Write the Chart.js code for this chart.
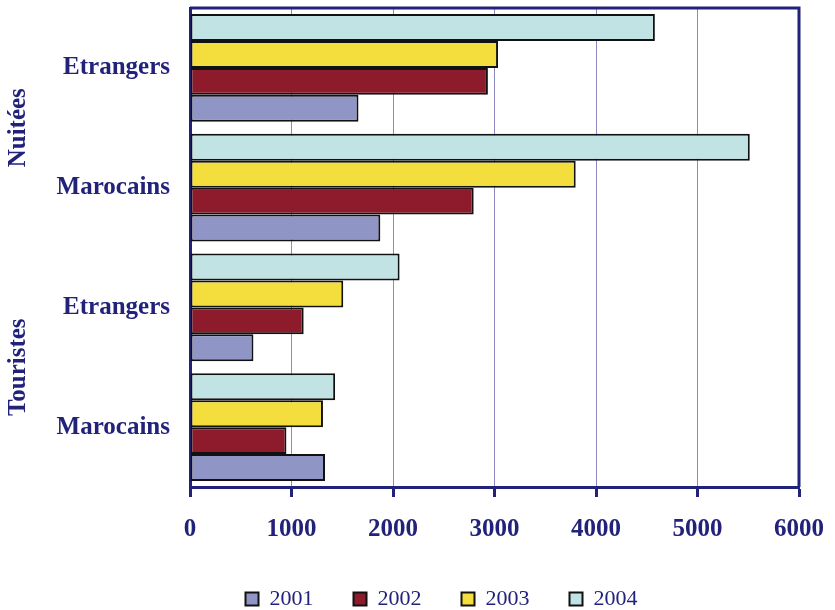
<!DOCTYPE html>
<html>
<head>
<meta charset="utf-8">
<script src="https://cdn.jsdelivr.net/npm/chart.js@4.4.1/dist/chart.umd.min.js"></script>
<style>
  html, body { margin: 0; padding: 0; background: #ffffff; }
  #wrap { width: 835px; height: 610px; position: relative; }
</style>
</head>
<body>
<div id="wrap"><canvas id="tourismChart"></canvas></div>
<script>
// Données
const categories = ["Etrangers", "Marocains", "Etrangers", "Marocains"];
const groupNames = ["Nuitées", "Touristes"];
const groupOf = [0, 0, 1, 1];
const years = ["2001", "2002", "2003", "2004"];
const v2001 = [1660, 1875, 625, 1330];
const v2002 = [2935, 2795, 1120, 950];
const v2003 = [3035, 3800, 1510, 1310];
const v2004 = [4580, 5515, 2065, 1430];
const xTicks = [0, 1000, 2000, 3000, 4000, 5000, 6000];

const NAVY = "#22227a";
const SERIF = "'Liberation Serif', 'Times New Roman', serif";
const colors = {
  "2001": "#8f95c4",
  "2002": "#8e1b2c",
  "2003": "#f4de3e",
  "2004": "#c2e3e4",
};
const seriesByYear = { "2001": v2001, "2002": v2002, "2003": v2003, "2004": v2004 };

// 2004 en haut de chaque groupe -> ordre inverse, légende remise à l'endroit
const datasets = years.slice().reverse().map((y) => ({
  label: y,
  data: seriesByYear[y],
  backgroundColor: colors[y],
  borderColor: "#111111",
  borderWidth: 2,
  borderSkipped: false,
  categoryPercentage: 0.9,
  barPercentage: 1.0,
}));

// Cadre + titres de groupe (Nuitées / Touristes) + position de la légende
const framePlugin = {
  id: "frame",
  afterLayout(chart) {
    const lg = chart.legend;
    lg.left += 42;
    lg.right += 42;
    lg.top += 10;
    lg.bottom += 10;
  },
  afterDatasetsDraw(chart) {
    const { ctx, chartArea: a } = chart;
    ctx.save();
    ctx.strokeStyle = NAVY;
    ctx.lineWidth = 3;
    ctx.beginPath();
    ctx.moveTo(a.left, a.top);
    ctx.lineTo(a.right, a.top);
    ctx.lineTo(a.right, a.bottom);
    ctx.stroke();
    ctx.restore();
  },
  afterDraw(chart) {
    const { ctx } = chart;
    const yScale = chart.scales.y;
    ctx.save();
    ctx.fillStyle = NAVY;
    ctx.font = "bold 25px " + SERIF;
    ctx.textAlign = "center";
    ctx.textBaseline = "middle";
    groupNames.forEach((name, g) => {
      const idx = groupOf.map((v, i) => (v === g ? i : -1)).filter((i) => i >= 0);
      const y0 = yScale.getPixelForValue(idx[0]);
      const y1 = yScale.getPixelForValue(idx[idx.length - 1]);
      ctx.save();
      ctx.translate(19, (y0 + y1) / 2);
      ctx.rotate(-Math.PI / 2);
      ctx.fillText(name, 0, 0);
      ctx.restore();
    });
    ctx.restore();
  },
};

const ctx = document.getElementById("tourismChart").getContext("2d");
const tourismChart = new Chart(ctx, {
  type: "bar",
  data: { labels: categories, datasets: datasets },
  plugins: [framePlugin],
  options: {
    indexAxis: "y",
    responsive: true,
    maintainAspectRatio: false,
    animation: false,
    layout: { padding: { top: 8, right: 36, bottom: 0, left: 0 } },
    scales: {
      x: {
        min: 0,
        max: 6000,
        afterBuildTicks: (scale) => {
          scale.ticks = xTicks.map((v) => ({ value: v }));
        },
        afterFit: (scale) => {
          scale.height = 51;
          scale.paddingLeft = 0;
          scale.paddingRight = 0;
        },
        grid: {
          color: "#9088c0",
          lineWidth: 1,
          tickLength: 10,
          tickColor: NAVY,
          tickWidth: 3,
        },
        border: { color: NAVY, width: 3 },
        ticks: {
          color: NAVY,
          padding: 18,
          callback: (value) => String(value),
          font: { family: SERIF, size: 25, weight: "bold" },
        },
      },
      y: {
        afterFit: (scale) => {
          scale.width = 190;
          scale.paddingTop = 0;
          scale.paddingBottom = 0;
        },
        grid: { display: false, drawTicks: false },
        border: { color: NAVY, width: 3 },
        ticks: {
          color: NAVY,
          padding: 20,
          font: { family: SERIF, size: 25, weight: "bold" },
        },
      },
    },
    plugins: {
      legend: {
        position: "bottom",
        reverse: true,
        labels: {
          color: NAVY,
          boxWidth: 13,
          boxHeight: 13,
          padding: 40,
          font: { family: SERIF, size: 22 },
        },
      },
      tooltip: { enabled: false },
    },
  },
});
</script>
</body>
</html>
